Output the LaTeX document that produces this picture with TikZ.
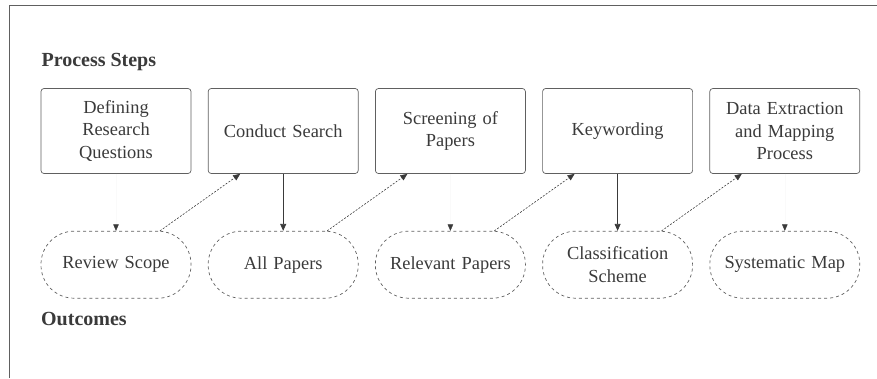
\documentclass[tikz,border=0pt]{standalone}
\usepackage{fontspec}
\setmainfont{Liberation Serif}
\usetikzlibrary{arrows.meta, positioning}
\definecolor{ink}{HTML}{3A3A3A}
\definecolor{edge}{HTML}{606060}

\begin{document}
\begin{tikzpicture}[x=1pt, y=-1pt,
        stepbox/.style={rectangle, draw=edge, line width=0.7pt, rounded corners=3pt, minimum width=150pt, minimum height=85pt, text width=140pt, align=center, text=ink, font=\fontsize{18.4}{22.5}\selectfont},
        outcome/.style={rectangle, draw=edge, dashed, line width=0.7pt, rounded corners=33pt, minimum width=150pt, minimum height=67pt, text width=140pt, align=center, text=ink, font=\fontsize{18.4}{22.5}\selectfont},
        heading/.style={anchor=west, text=ink, font=\fontsize{20}{22}\selectfont\bfseries},
        solidline/.style={draw=ink, line width=0.8pt, -{Triangle[width=6pt, length=7pt]}},
        faintline/.style={draw=black!2, line width=0.4pt, -{Triangle[width=5.5pt, length=6.5pt, color=ink]}},
        feedback/.style={draw=ink, dashed, dash pattern=on 2pt off 1.5pt, line width=0.6pt, -{Triangle[width=6pt, length=7pt]}}
    ]
    \useasboundingbox (0,0) rectangle (877,378);
    \draw[edge, line width=0.8pt] (9,378) -- (9,5) -- (877,5);

    % Process steps
    \node[heading] (steps) at (38,62) {Process Steps};
    \node[stepbox] (define) at (116,131) {Defining\\Research\\Questions};
    \node[stepbox, right=16.5pt of define] (search) {Conduct Search};
    \node[stepbox, right=16.5pt of search] (screen) {Screening of\\Papers};
    \node[stepbox, right=16.5pt of screen] (keyword) {Keywording};
    \node[stepbox, right=16.5pt of keyword] (extract) {Data Extraction\\and Mapping\\Process};

    % Outcomes
    \node[outcome, below=57pt of define] (scope) {Review Scope};
    \node[outcome, below=57pt of search] (papers) {All Papers};
    \node[outcome, below=57pt of screen] (relevant) {Relevant Papers};
    \node[outcome, below=57pt of keyword] (scheme) {Classification\\Scheme};
    \node[outcome, below=57pt of extract] (map) {Systematic Map};
    \node[heading, below=10pt of scope.south west, anchor=north west, xshift=-3pt] (outcomes) {Outcomes};

    % Connections
    \path[faintline] (define) -- (scope);
    \path[solidline] (search) -- (papers);
    \path[faintline] (screen) -- (relevant);
    \path[solidline] (keyword) -- (scheme);
    \path[faintline] (extract) -- (map);

    \path[feedback] ([xshift=44pt]scope.north) -- ([xshift=-43pt]search.south);
    \path[feedback] ([xshift=44pt]papers.north) -- ([xshift=-43pt]screen.south);
    \path[feedback] ([xshift=44pt]relevant.north) -- ([xshift=-43pt]keyword.south);
    \path[feedback] ([xshift=44pt]scheme.north) -- ([xshift=-43pt]extract.south);

\end{tikzpicture}
\end{document}
